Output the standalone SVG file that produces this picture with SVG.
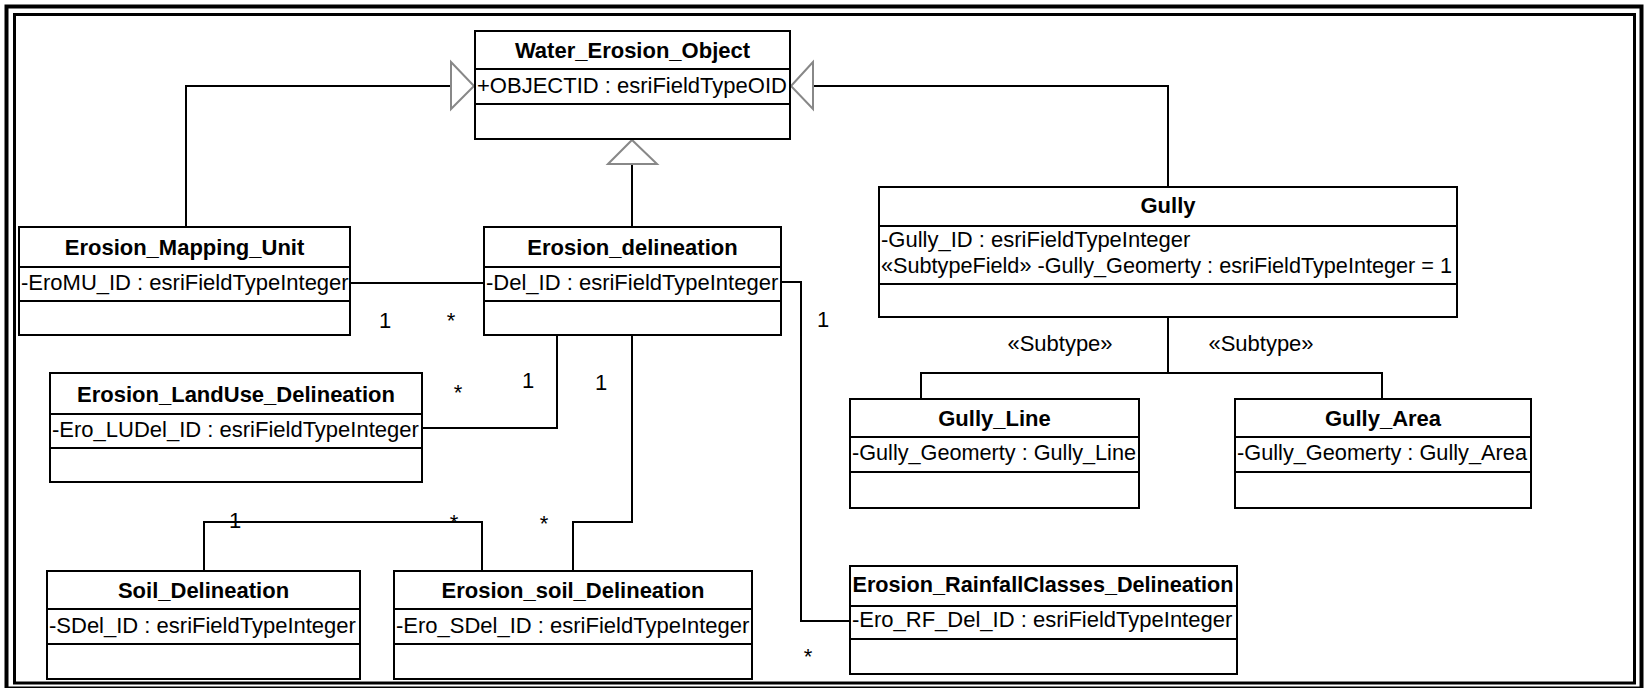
<svg xmlns="http://www.w3.org/2000/svg" width="1646" height="688" viewBox="0 0 1646 688">
<style>
  .box { fill: #fff; stroke: #000; stroke-width: 2; }
  .div { stroke: #000; stroke-width: 2; }
  .t { font-family: "Liberation Sans", Arial, sans-serif; font-size: 22px; font-weight: bold; text-anchor: middle; fill: #000; }
  .a { font-family: "Liberation Sans", Arial, sans-serif; font-size: 22px; fill: #000; }
  .m { font-family: "Liberation Sans", Arial, sans-serif; font-size: 22px; text-anchor: middle; fill: #000; }
  .ln { fill: none; stroke: #000; stroke-width: 2; }
  .tri { fill: #fff; stroke: #888; stroke-width: 2; }
</style>
<rect x="0" y="0" width="1646" height="688" fill="#fff"/>
<g id="frame">
  <rect x="6.5" y="6.5" width="1635" height="682" fill="none" stroke="#000" stroke-width="4"/>
  <rect x="14.5" y="14.5" width="1620" height="668.5" fill="none" stroke="#000" stroke-width="3"/>
</g>
<g id="connectors">
  <path class="ln" d="M186 227 V86 H451"/>
  <polygon class="tri" points="451,62 474,86 451,109"/>
  <path class="ln" d="M1168 187 V86 H813"/>
  <polygon class="tri" points="813,62 791,86 813,109"/>
  <path class="ln" d="M632 227 V164"/>
  <polygon class="tri" points="608,164 632,140 657,164"/>
  <path class="ln" d="M350 283 H484"/>
  <path class="ln" d="M781 282 H801 V621 H850"/>
  <path class="ln" d="M557 335 V428 H422"/>
  <path class="ln" d="M632 335 V522 H573 V571"/>
  <path class="ln" d="M204 571 V522 H482 V571"/>
  <path class="ln" d="M1168 317 V373"/>
  <path class="ln" d="M921 399 V373 H1382 V399"/>
  <text class="m" x="385" y="328">1</text>
  <text class="m" x="451" y="328">*</text>
  <text class="m" x="823" y="327">1</text>
  <text class="m" x="808" y="664">*</text>
  <text class="m" x="458" y="400">*</text>
  <text class="m" x="528" y="388">1</text>
  <text class="m" x="601" y="390">1</text>
  <text class="m" x="544" y="531">*</text>
  <text class="m" x="235" y="528">1</text>
  <text class="m" x="454" y="530">*</text>
  <text class="m" x="1060" y="351">«Subtype»</text>
  <text class="m" x="1261" y="351">«Subtype»</text>
</g>
<g id="Water_Erosion_Object">
  <rect class="box" x="475" y="31" width="315" height="108"/>
  <line class="div" x1="475" y1="69" x2="790" y2="69"/>
  <line class="div" x1="475" y1="104" x2="790" y2="104"/>
  <text class="t" x="632.5" y="58">Water_Erosion_Object</text>
  <text class="a" x="477" y="93">+OBJECTID : esriFieldTypeOID</text>
</g>
<g id="Erosion_Mapping_Unit">
  <rect class="box" x="19" y="227" width="331" height="108"/>
  <line class="div" x1="19" y1="267" x2="350" y2="267"/>
  <line class="div" x1="19" y1="301" x2="350" y2="301"/>
  <text class="t" x="184.5" y="255">Erosion_Mapping_Unit</text>
  <text class="a" x="21" y="290">-EroMU_ID : esriFieldTypeInteger</text>
</g>
<g id="Erosion_delineation">
  <rect class="box" x="484" y="227" width="297" height="108"/>
  <line class="div" x1="484" y1="267" x2="781" y2="267"/>
  <line class="div" x1="484" y1="301" x2="781" y2="301"/>
  <text class="t" x="632.5" y="255">Erosion_delineation</text>
  <text class="a" x="486" y="290">-Del_ID : esriFieldTypeInteger</text>
</g>
<g id="Gully">
  <rect class="box" x="879" y="187" width="578" height="130"/>
  <line class="div" x1="879" y1="226" x2="1457" y2="226"/>
  <line class="div" x1="879" y1="284" x2="1457" y2="284"/>
  <text class="t" x="1168" y="213">Gully</text>
  <text class="a" x="881" y="247">-Gully_ID : esriFieldTypeInteger</text>
  <text class="a" x="881" y="273" textLength="571" lengthAdjust="spacingAndGlyphs">«SubtypeField» -Gully_Geomerty : esriFieldTypeInteger = 1</text>
</g>
<g id="Erosion_LandUse_Delineation">
  <rect class="box" x="50" y="373" width="372" height="109"/>
  <line class="div" x1="50" y1="414" x2="422" y2="414"/>
  <line class="div" x1="50" y1="448" x2="422" y2="448"/>
  <text class="t" x="236" y="402">Erosion_LandUse_Delineation</text>
  <text class="a" x="52" y="437">-Ero_LUDel_ID : esriFieldTypeInteger</text>
</g>
<g id="Gully_Line">
  <rect class="box" x="850" y="399" width="289" height="109"/>
  <line class="div" x1="850" y1="437" x2="1139" y2="437"/>
  <line class="div" x1="850" y1="472" x2="1139" y2="472"/>
  <text class="t" x="994.5" y="426">Gully_Line</text>
  <text class="a" x="852" y="460" textLength="284" lengthAdjust="spacingAndGlyphs">-Gully_Geomerty : Gully_Line</text>
</g>
<g id="Gully_Area">
  <rect class="box" x="1235" y="399" width="296" height="109"/>
  <line class="div" x1="1235" y1="437" x2="1531" y2="437"/>
  <line class="div" x1="1235" y1="472" x2="1531" y2="472"/>
  <text class="t" x="1383" y="426">Gully_Area</text>
  <text class="a" x="1237" y="460" textLength="290" lengthAdjust="spacingAndGlyphs">-Gully_Geomerty : Gully_Area</text>
</g>
<g id="Soil_Delineation">
  <rect class="box" x="47" y="571" width="313" height="108"/>
  <line class="div" x1="47" y1="609" x2="360" y2="609"/>
  <line class="div" x1="47" y1="644" x2="360" y2="644"/>
  <text class="t" x="203.5" y="598">Soil_Delineation</text>
  <text class="a" x="49" y="633">-SDel_ID : esriFieldTypeInteger</text>
</g>
<g id="Erosion_soil_Delineation">
  <rect class="box" x="394" y="571" width="358" height="108"/>
  <line class="div" x1="394" y1="609" x2="752" y2="609"/>
  <line class="div" x1="394" y1="644" x2="752" y2="644"/>
  <text class="t" x="573" y="598">Erosion_soil_Delineation</text>
  <text class="a" x="396" y="633">-Ero_SDel_ID : esriFieldTypeInteger</text>
</g>
<g id="Erosion_RainfallClasses_Delineation">
  <rect class="box" x="850" y="566" width="387" height="108"/>
  <line class="div" x1="850" y1="606" x2="1237" y2="606"/>
  <line class="div" x1="850" y1="639" x2="1237" y2="639"/>
  <text class="t" x="1043" y="592" textLength="381" lengthAdjust="spacingAndGlyphs">Erosion_RainfallClasses_Delineation</text>
  <text class="a" x="852" y="627">-Ero_RF_Del_ID : esriFieldTypeInteger</text>
</g>
</svg>
